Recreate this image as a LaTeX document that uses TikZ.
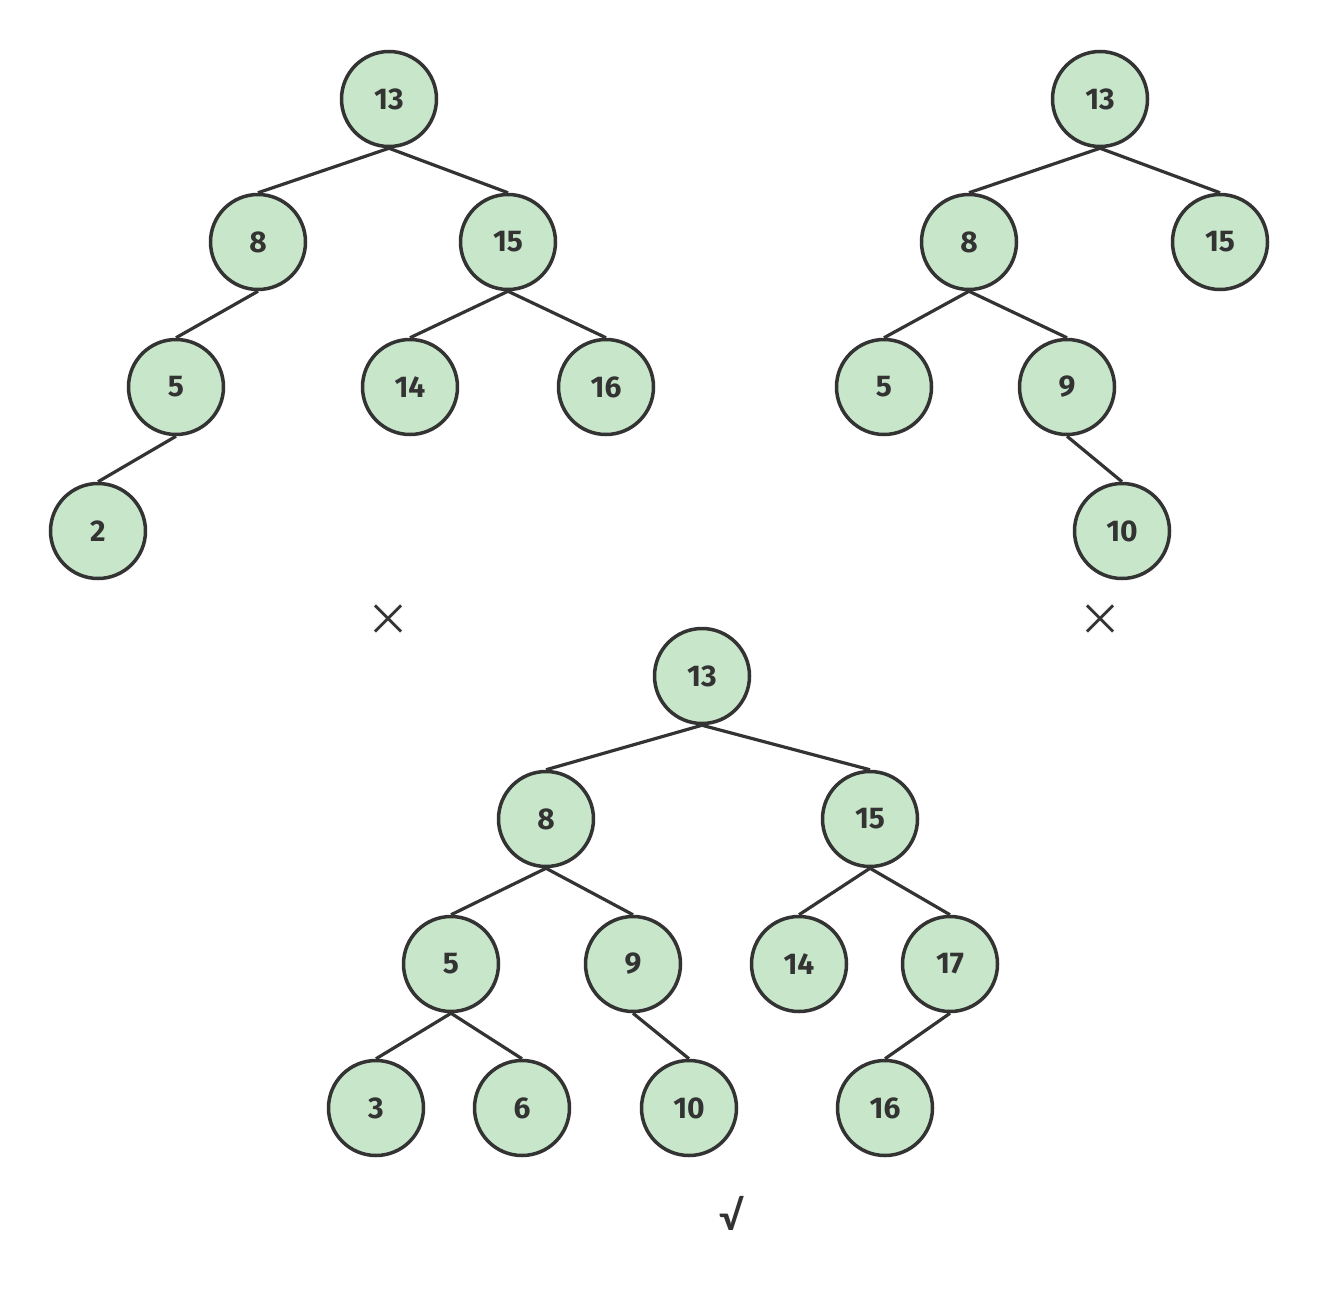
\documentclass[tikz,border=0pt]{standalone}
\usepackage{fontspec}
\setmainfont{Fira Sans}
\newfontfamily\cjk{Noto Sans CJK SC}
\newfontfamily\latofont{Lato}
\definecolor{nodefill}{HTML}{C8E6C9}
\definecolor{ink}{HTML}{333333}
\begin{document}
\begin{tikzpicture}[x=1pt,y=-1pt,
  tn/.style={circle,draw=ink,fill=nodefill,line width=3.5pt,minimum size=95pt,inner sep=0pt,font=\fontsize{30}{34}\selectfont\bfseries,text=ink},
  ed/.style={draw=ink,line width=3.2pt},
  mk/.style={text=ink,font=\cjk\fontsize{44}{48}\selectfont},
  okmk/.style={text=ink,font=\latofont\bfseries\fontsize{40}{44}\selectfont}]
\useasboundingbox (0,0) rectangle (1319,1303);
% tree 1
\node[tn] (a13) at (389,99) {13};
\node[tn] (a8) at (258,242) {8};
\node[tn] (a15) at (508,242) {15};
\node[tn] (a5) at (176,387) {5};
\node[tn] (a14) at (410,387) {14};
\node[tn] (a16) at (606,387) {16};
\node[tn] (a2) at (98,531) {2};
\draw[ed] (a13.south) -- (a8.north);
\draw[ed] (a13.south) -- (a15.north);
\draw[ed] (a8.south) -- (a5.north);
\draw[ed] (a15.south) -- (a14.north);
\draw[ed] (a15.south) -- (a16.north);
\draw[ed] (a5.south) -- (a2.north);
\node[mk] (x1) at (388,620) {×};
% tree 2
\node[tn] (b13) at (1100,99) {13};
\node[tn] (b8) at (969,242) {8};
\node[tn] (b15) at (1220,242) {15};
\node[tn] (b5) at (884,387) {5};
\node[tn] (b9) at (1067,387) {9};
\node[tn] (b10) at (1122,531) {10};
\draw[ed] (b13.south) -- (b8.north);
\draw[ed] (b13.south) -- (b15.north);
\draw[ed] (b8.south) -- (b5.north);
\draw[ed] (b8.south) -- (b9.north);
\draw[ed] (b9.south) -- (b10.north);
\node[mk] (x2) at (1100,620) {×};
% tree 3
\node[tn] (c13) at (702,676) {13};
\node[tn] (c8) at (546,819) {8};
\node[tn] (c15) at (870,819) {15};
\node[tn] (c5) at (451,964) {5};
\node[tn] (c9) at (633,964) {9};
\node[tn] (c14) at (799,964) {14};
\node[tn] (c17) at (950,964) {17};
\node[tn] (c3) at (376,1108) {3};
\node[tn] (c6) at (522,1108) {6};
\node[tn] (c10) at (689,1108) {10};
\node[tn] (c16) at (885,1108) {16};
\draw[ed] (c13.south) -- (c8.north);
\draw[ed] (c13.south) -- (c15.north);
\draw[ed] (c8.south) -- (c5.north);
\draw[ed] (c8.south) -- (c9.north);
\draw[ed] (c15.south) -- (c14.north);
\draw[ed] (c15.south) -- (c17.north);
\draw[ed] (c5.south) -- (c3.north);
\draw[ed] (c5.south) -- (c6.north);
\draw[ed] (c9.south) -- (c10.north);
\draw[ed] (c17.south) -- (c16.north);
\node[okmk] (ok) at (732,1213) {√};
\end{tikzpicture}
\end{document}
